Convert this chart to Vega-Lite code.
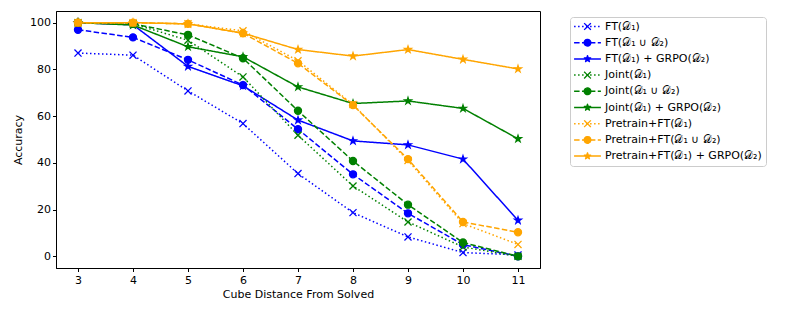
{
  "$schema": "https://vega.github.io/schema/vega-lite/v6.json",
  "width": 484,
  "height": 257,
  "autosize": {"type": "none"},
  "padding": {"left": 56, "top": 11, "right": 245, "bottom": 46},
  "background": "white",
  "config": {
    "font": "DejaVu Sans",
    "view": {"stroke": "black", "strokeWidth": 1},
    "axis": {"grid": false, "domainColor": "black", "tickColor": "black", "labelColor": "black", "titleColor": "black", "labelFontSize": 11, "titleFontSize": 11, "titleFontWeight": "normal", "tickSize": 3.5, "domainWidth": 1, "tickWidth": 1, "labelFont": "DejaVu Sans", "titleFont": "DejaVu Sans"},
    "legend": {"labelFont": "DejaVu Sans", "labelFontSize": 11, "labelColor": "black"}
  },
  "data": {"values": [
    {"series": "FT(𝒟₁)", "x": 3, "y": 87}, {"series": "FT(𝒟₁)", "x": 4, "y": 86.1}, {"series": "FT(𝒟₁)", "x": 5, "y": 70.8}, {"series": "FT(𝒟₁)", "x": 6, "y": 56.8}, {"series": "FT(𝒟₁)", "x": 7, "y": 35.4}, {"series": "FT(𝒟₁)", "x": 8, "y": 18.7}, {"series": "FT(𝒟₁)", "x": 9, "y": 8.3}, {"series": "FT(𝒟₁)", "x": 10, "y": 1.6}, {"series": "FT(𝒟₁)", "x": 11, "y": 0.6},
    {"series": "FT(𝒟₁ ∪ 𝒟₂)", "x": 3, "y": 97}, {"series": "FT(𝒟₁ ∪ 𝒟₂)", "x": 4, "y": 93.7}, {"series": "FT(𝒟₁ ∪ 𝒟₂)", "x": 5, "y": 84.1}, {"series": "FT(𝒟₁ ∪ 𝒟₂)", "x": 6, "y": 73.3}, {"series": "FT(𝒟₁ ∪ 𝒟₂)", "x": 7, "y": 54.4}, {"series": "FT(𝒟₁ ∪ 𝒟₂)", "x": 8, "y": 35.1}, {"series": "FT(𝒟₁ ∪ 𝒟₂)", "x": 9, "y": 18.4}, {"series": "FT(𝒟₁ ∪ 𝒟₂)", "x": 10, "y": 5}, {"series": "FT(𝒟₁ ∪ 𝒟₂)", "x": 11, "y": 0},
    {"series": "FT(𝒟₁) + GRPO(𝒟₂)", "x": 3, "y": 100}, {"series": "FT(𝒟₁) + GRPO(𝒟₂)", "x": 4, "y": 99.1}, {"series": "FT(𝒟₁) + GRPO(𝒟₂)", "x": 5, "y": 81.3}, {"series": "FT(𝒟₁) + GRPO(𝒟₂)", "x": 6, "y": 73}, {"series": "FT(𝒟₁) + GRPO(𝒟₂)", "x": 7, "y": 58.3}, {"series": "FT(𝒟₁) + GRPO(𝒟₂)", "x": 8, "y": 49.4}, {"series": "FT(𝒟₁) + GRPO(𝒟₂)", "x": 9, "y": 47.7}, {"series": "FT(𝒟₁) + GRPO(𝒟₂)", "x": 10, "y": 41.6}, {"series": "FT(𝒟₁) + GRPO(𝒟₂)", "x": 11, "y": 15.4},
    {"series": "Joint(𝒟₁)", "x": 3, "y": 100}, {"series": "Joint(𝒟₁)", "x": 4, "y": 99.5}, {"series": "Joint(𝒟₁)", "x": 5, "y": 92.5}, {"series": "Joint(𝒟₁)", "x": 6, "y": 76.8}, {"series": "Joint(𝒟₁)", "x": 7, "y": 51.8}, {"series": "Joint(𝒟₁)", "x": 8, "y": 30.1}, {"series": "Joint(𝒟₁)", "x": 9, "y": 14.7}, {"series": "Joint(𝒟₁)", "x": 10, "y": 4}, {"series": "Joint(𝒟₁)", "x": 11, "y": 0},
    {"series": "Joint(𝒟₁ ∪ 𝒟₂)", "x": 3, "y": 100}, {"series": "Joint(𝒟₁ ∪ 𝒟₂)", "x": 4, "y": 99.5}, {"series": "Joint(𝒟₁ ∪ 𝒟₂)", "x": 5, "y": 94.8}, {"series": "Joint(𝒟₁ ∪ 𝒟₂)", "x": 6, "y": 84.8}, {"series": "Joint(𝒟₁ ∪ 𝒟₂)", "x": 7, "y": 62.3}, {"series": "Joint(𝒟₁ ∪ 𝒟₂)", "x": 8, "y": 40.8}, {"series": "Joint(𝒟₁ ∪ 𝒟₂)", "x": 9, "y": 22.1}, {"series": "Joint(𝒟₁ ∪ 𝒟₂)", "x": 10, "y": 5.9}, {"series": "Joint(𝒟₁ ∪ 𝒟₂)", "x": 11, "y": 0},
    {"series": "Joint(𝒟₁) + GRPO(𝒟₂)", "x": 3, "y": 100}, {"series": "Joint(𝒟₁) + GRPO(𝒟₂)", "x": 4, "y": 99}, {"series": "Joint(𝒟₁) + GRPO(𝒟₂)", "x": 5, "y": 89.7}, {"series": "Joint(𝒟₁) + GRPO(𝒟₂)", "x": 6, "y": 85.4}, {"series": "Joint(𝒟₁) + GRPO(𝒟₂)", "x": 7, "y": 72.5}, {"series": "Joint(𝒟₁) + GRPO(𝒟₂)", "x": 8, "y": 65.4}, {"series": "Joint(𝒟₁) + GRPO(𝒟₂)", "x": 9, "y": 66.5}, {"series": "Joint(𝒟₁) + GRPO(𝒟₂)", "x": 10, "y": 63.3}, {"series": "Joint(𝒟₁) + GRPO(𝒟₂)", "x": 11, "y": 50.3},
    {"series": "Pretrain+FT(𝒟₁)", "x": 3, "y": 100}, {"series": "Pretrain+FT(𝒟₁)", "x": 4, "y": 100}, {"series": "Pretrain+FT(𝒟₁)", "x": 5, "y": 99.5}, {"series": "Pretrain+FT(𝒟₁)", "x": 6, "y": 96.5}, {"series": "Pretrain+FT(𝒟₁)", "x": 7, "y": 83.7}, {"series": "Pretrain+FT(𝒟₁)", "x": 8, "y": 65}, {"series": "Pretrain+FT(𝒟₁)", "x": 9, "y": 41}, {"series": "Pretrain+FT(𝒟₁)", "x": 10, "y": 14}, {"series": "Pretrain+FT(𝒟₁)", "x": 11, "y": 5.1},
    {"series": "Pretrain+FT(𝒟₁ ∪ 𝒟₂)", "x": 3, "y": 100}, {"series": "Pretrain+FT(𝒟₁ ∪ 𝒟₂)", "x": 4, "y": 100}, {"series": "Pretrain+FT(𝒟₁ ∪ 𝒟₂)", "x": 5, "y": 99.5}, {"series": "Pretrain+FT(𝒟₁ ∪ 𝒟₂)", "x": 6, "y": 95.5}, {"series": "Pretrain+FT(𝒟₁ ∪ 𝒟₂)", "x": 7, "y": 82.6}, {"series": "Pretrain+FT(𝒟₁ ∪ 𝒟₂)", "x": 8, "y": 64.7}, {"series": "Pretrain+FT(𝒟₁ ∪ 𝒟₂)", "x": 9, "y": 41.6}, {"series": "Pretrain+FT(𝒟₁ ∪ 𝒟₂)", "x": 10, "y": 14.7}, {"series": "Pretrain+FT(𝒟₁ ∪ 𝒟₂)", "x": 11, "y": 10.3},
    {"series": "Pretrain+FT(𝒟₁) + GRPO(𝒟₂)", "x": 3, "y": 100}, {"series": "Pretrain+FT(𝒟₁) + GRPO(𝒟₂)", "x": 4, "y": 100}, {"series": "Pretrain+FT(𝒟₁) + GRPO(𝒟₂)", "x": 5, "y": 99.5}, {"series": "Pretrain+FT(𝒟₁) + GRPO(𝒟₂)", "x": 6, "y": 95.5}, {"series": "Pretrain+FT(𝒟₁) + GRPO(𝒟₂)", "x": 7, "y": 88.5}, {"series": "Pretrain+FT(𝒟₁) + GRPO(𝒟₂)", "x": 8, "y": 85.7}, {"series": "Pretrain+FT(𝒟₁) + GRPO(𝒟₂)", "x": 9, "y": 88.5}, {"series": "Pretrain+FT(𝒟₁) + GRPO(𝒟₂)", "x": 10, "y": 84.3}, {"series": "Pretrain+FT(𝒟₁) + GRPO(𝒟₂)", "x": 11, "y": 80.2}
  ]},
  "transform": [{"calculate": "datum.series + ' '", "as": "method"}],
  "encoding": {
    "x": {"field": "x", "type": "quantitative", "scale": {"domain": [2.6, 11.4], "nice": false, "zero": false}, "axis": {"values": [3, 4, 5, 6, 7, 8, 9, 10, 11], "format": "d", "title": "Cube Distance From Solved", "labelPadding": 3, "titlePadding": 3}},
    "y": {"field": "y", "type": "quantitative", "scale": {"domain": [-5, 105], "nice": false, "zero": false}, "axis": {"values": [0, 20, 40, 60, 80, 100], "title": "Accuracy", "labelPadding": 2, "titlePadding": 6}}
  },
  "layer": [
    {
      "mark": {"type": "line", "strokeWidth": 1.5},
      "encoding": {
        "color": {"field": "series", "type": "nominal",
          "scale": {"domain": ["FT(𝒟₁)", "FT(𝒟₁ ∪ 𝒟₂)", "FT(𝒟₁) + GRPO(𝒟₂)", "Joint(𝒟₁)", "Joint(𝒟₁ ∪ 𝒟₂)", "Joint(𝒟₁) + GRPO(𝒟₂)", "Pretrain+FT(𝒟₁)", "Pretrain+FT(𝒟₁ ∪ 𝒟₂)", "Pretrain+FT(𝒟₁) + GRPO(𝒟₂)"],
                    "range": ["#0000ff", "#0000ff", "#0000ff", "#008000", "#008000", "#008000", "#ffa500", "#ffa500", "#ffa500"]},
          "legend": {"title": null, "orient": "none", "legendX": 514, "legendY": 6, "symbolType": "M-4,0H4", "symbolSize": 45, "symbolStrokeWidth": 1.5, "symbolOffset": 8, "labelOffset": 12, "padding": 4, "rowPadding": 4.2, "strokeColor": "#cccccc", "cornerRadius": 3}},
        "strokeDash": {"field": "series", "type": "nominal",
          "scale": {"domain": ["FT(𝒟₁)", "FT(𝒟₁ ∪ 𝒟₂)", "FT(𝒟₁) + GRPO(𝒟₂)", "Joint(𝒟₁)", "Joint(𝒟₁ ∪ 𝒟₂)", "Joint(𝒟₁) + GRPO(𝒟₂)", "Pretrain+FT(𝒟₁)", "Pretrain+FT(𝒟₁ ∪ 𝒟₂)", "Pretrain+FT(𝒟₁) + GRPO(𝒟₂)"],
                    "range": [[1.5, 2.5], [5.5, 2.4], [1, 0], [1.5, 2.5], [5.5, 2.4], [1, 0], [1.5, 2.5], [5.5, 2.4], [1, 0]]},
          "legend": {"title": null, "orient": "none", "legendX": 514, "legendY": 6, "symbolType": "M-4,0H4", "symbolSize": 45, "symbolStrokeWidth": 1.5, "symbolOffset": 8, "labelOffset": 12, "padding": 4, "rowPadding": 4.2, "strokeColor": "#cccccc", "cornerRadius": 3}}
      }
    },
    {
      "mark": {"type": "point", "filled": true, "size": 50, "strokeWidth": 1.3, "opacity": 1},
      "encoding": {
        "color": {"field": "series", "type": "nominal"},
        "stroke": {"field": "series", "type": "nominal", "legend": null,
          "scale": {"domain": ["FT(𝒟₁)", "FT(𝒟₁ ∪ 𝒟₂)", "FT(𝒟₁) + GRPO(𝒟₂)", "Joint(𝒟₁)", "Joint(𝒟₁ ∪ 𝒟₂)", "Joint(𝒟₁) + GRPO(𝒟₂)", "Pretrain+FT(𝒟₁)", "Pretrain+FT(𝒟₁ ∪ 𝒟₂)", "Pretrain+FT(𝒟₁) + GRPO(𝒟₂)"],
                    "range": ["#0000ff", "#0000ff", "#0000ff", "#008000", "#008000", "#008000", "#ffa500", "#ffa500", "#ffa500"]}},
        "shape": {"field": "method", "type": "nominal",
          "scale": {"domain": ["FT(𝒟₁) ", "FT(𝒟₁ ∪ 𝒟₂) ", "FT(𝒟₁) + GRPO(𝒟₂) ", "Joint(𝒟₁) ", "Joint(𝒟₁ ∪ 𝒟₂) ", "Joint(𝒟₁) + GRPO(𝒟₂) ", "Pretrain+FT(𝒟₁) ", "Pretrain+FT(𝒟₁ ∪ 𝒟₂) ", "Pretrain+FT(𝒟₁) + GRPO(𝒟₂) "],
                    "range": ["M-1,-1L1,1M-1,1L1,-1", "circle", "M0,-1L0.225,-0.309L0.951,-0.309L0.363,0.118L0.588,0.809L0,0.382L-0.588,0.809L-0.363,0.118L-0.951,-0.309L-0.225,-0.309Z", "M-1,-1L1,1M-1,1L1,-1", "circle", "M0,-1L0.225,-0.309L0.951,-0.309L0.363,0.118L0.588,0.809L0,0.382L-0.588,0.809L-0.363,0.118L-0.951,-0.309L-0.225,-0.309Z", "M-1,-1L1,1M-1,1L1,-1", "circle", "M0,-1L0.225,-0.309L0.951,-0.309L0.363,0.118L0.588,0.809L0,0.382L-0.588,0.809L-0.363,0.118L-0.951,-0.309L-0.225,-0.309Z"]},
          "legend": {"title": null, "orient": "none", "legendX": 514, "legendY": 6, "symbolSize": 45, "symbolStrokeWidth": 1.5, "symbolOffset": 8, "labelOffset": 12, "padding": 4, "rowPadding": 4.2, "labelExpr": "' '",
            "encoding": {"symbols": {"fill": {"value": {"expr": "scale('color', trim(datum.value))"}}, "stroke": {"value": {"expr": "scale('color', trim(datum.value))"}}, "strokeWidth": {"value": 1.3}, "strokeJoin": {"value": "round"}, "opacity": {"value": 1}, "strokeDash": {"value": [1, 0]}}}}}
      }
    }
  ]
}
